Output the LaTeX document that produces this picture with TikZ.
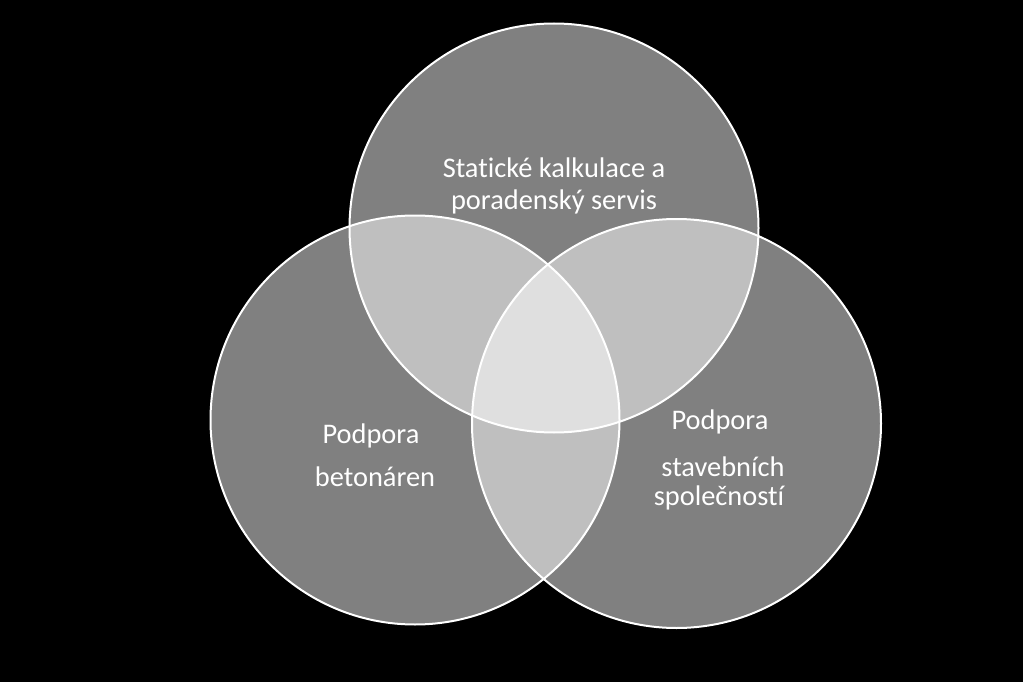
\documentclass[tikz,border=0pt]{standalone}
\usepackage{fontspec}
\setmainfont{Carlito}[Ligatures=NoCommon]
\begin{document}
\begin{tikzpicture}[x=1pt,y=-1pt,
  venn/.style={circle, draw=white, line width=2pt, fill=white, fill opacity=0.5, draw opacity=1, minimum size=409pt, inner sep=0pt},
  lbl/.style={text=white, anchor=base, inner sep=0pt, font=\fontsize{28.4}{32}\selectfont}]
\useasboundingbox[fill=black] (0,0) rectangle (1023,682);
\node[venn] (top) at (554,228) {};
\node[venn] (left) at (415,420) {};
\node[venn] (right) at (676.5,423.5) {};
\node[lbl] (t1) at (554,178) {Statické kalkulace a};
\node[lbl] (t2) at (554,209) {poradenský servis};
\node[lbl] (l1) at (371,443) {Podpora};
\node[lbl] (l2) at (375,486) {betonáren};
\node[lbl] (r1) at (720,429) {Podpora};
\node[lbl] (r2) at (723,476) {stavebních};
\node[lbl] (r3) at (719,505) {společností};
\end{tikzpicture}
\end{document}
